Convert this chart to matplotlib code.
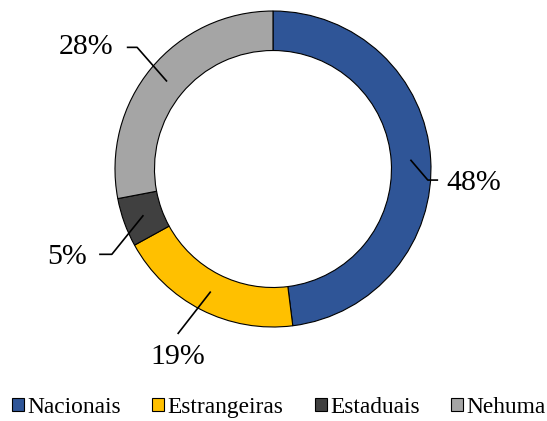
import numpy as np
import matplotlib.pyplot as plt

plt.rcParams['font.family'] = ['Liberation Serif', 'DejaVu Serif']

labels = ['Nacionais', 'Estrangeiras', 'Estaduais', 'Nehuma']
values = [48, 19, 5, 28]
colors = ['#2F5597', '#FFC000', '#404040', '#A5A5A5']

# leader layout per slice: elbow point, end of horizontal piece, text anchor
elbows = [(0.98, -0.07), (-0.60, -1.04), (-1.02, -0.54), (-0.86, 0.77)]
ends = [(1.04, -0.07), (-0.60, -1.04), (-1.095, -0.54), (-0.92, 0.77)]
text_pos = [(1.10, -0.09, 'left'), (-0.60, -1.19, 'center'),
            (-1.18, -0.56, 'right'), (-1.01, 0.77, 'right')]

fig = plt.figure(figsize=(5.47, 4.21), dpi=100)
ax = fig.add_axes([0.0658, 0.0356, 0.8665, 1.1259])

wedges, _ = ax.pie(values, colors=colors, startangle=90, counterclock=False,
                   radius=1, wedgeprops=dict(width=0.25, edgecolor='black', linewidth=0.8))
ax.set_xlim(-1.5, 1.5)
ax.set_ylim(-1.5, 1.5)
ax.set_aspect('equal')
ax.axis('off')

for i, w in enumerate(wedges):
    ang = np.deg2rad((w.theta1 + w.theta2) / 2)
    r = 0.875
    sx, sy = r * np.cos(ang), r * np.sin(ang)
    ex, ey = elbows[i]
    hx, hy = ends[i]
    ax.plot([sx, ex, hx], [sy, ey, hy], color='black', lw=1.2, clip_on=False)
    tx, ty, ha = text_pos[i]
    ax.text(tx, ty, f'{values[i]}%', fontsize=21.5, ha=ha, va='center', color='black')

fig.legend(wedges, labels, loc='lower center', bbox_to_anchor=(0.51, -0.042), ncol=4,
           frameon=False, fontsize=16.8, handlelength=0.5, handleheight=0.5,
           handletextpad=0.15, columnspacing=1.35)

fig.savefig('out.png', dpi=100)
